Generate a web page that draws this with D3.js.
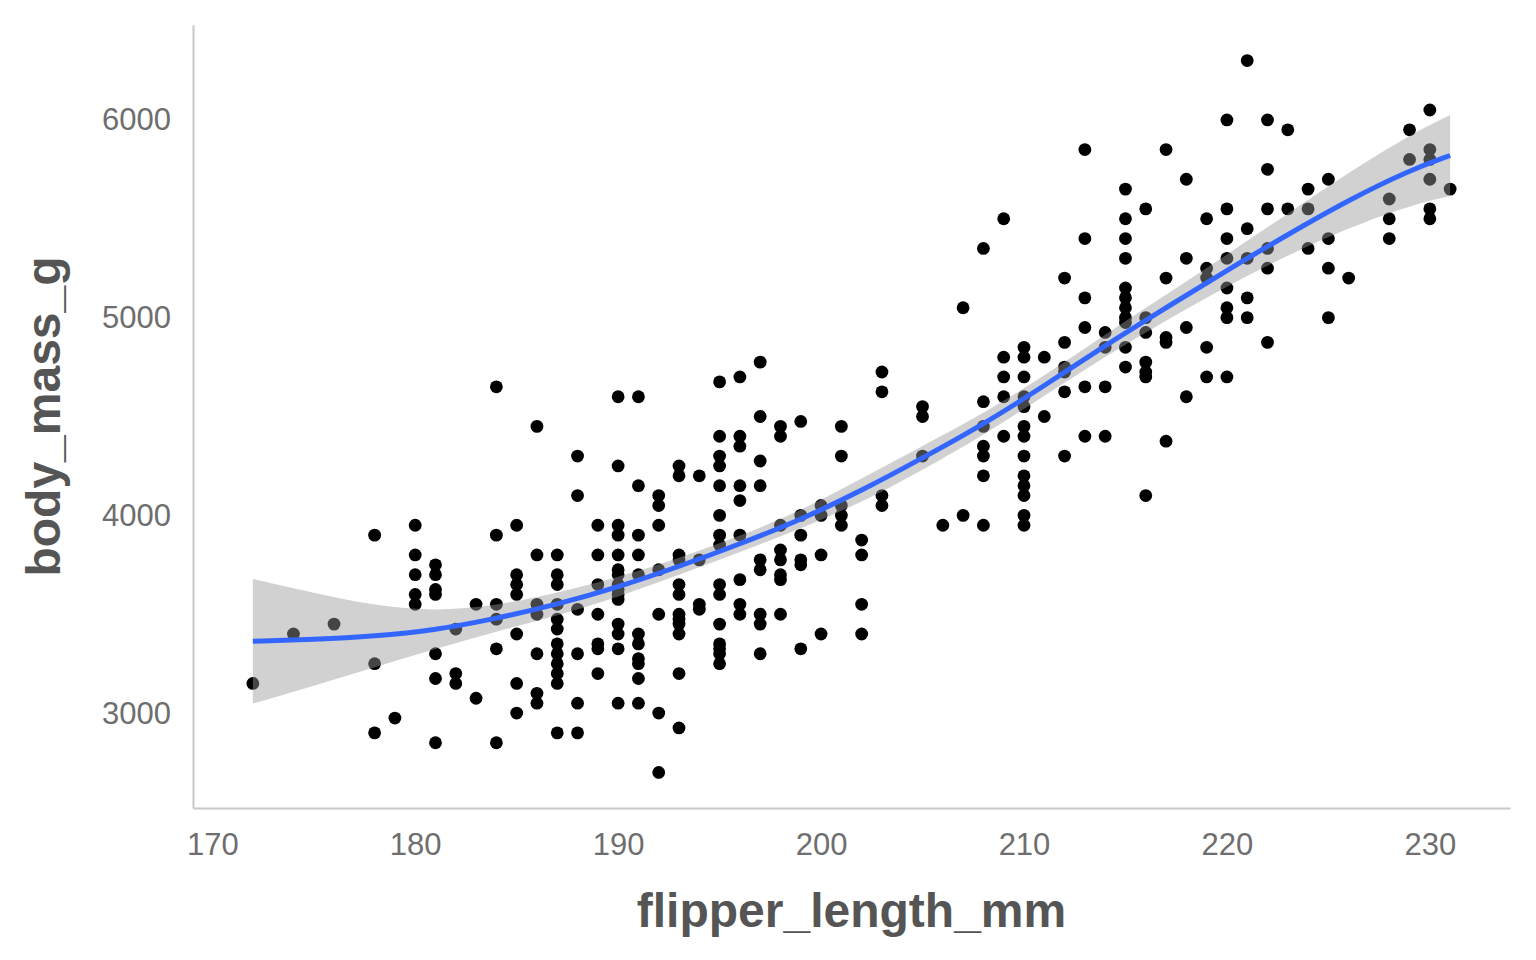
<!DOCTYPE html>
<html>
<head>
<meta charset="utf-8">
<script src="https://cdn.jsdelivr.net/npm/d3@7"></script>
<style>
  html, body { margin: 0; padding: 0; background: #fff; }
  svg { display: block; }
</style>
</head>
<body>
<svg id="chart" width="1536" height="960"></svg>
<script>
// ---- data ----
const flipperLengths = [172,174,176,178,179,180,181,182,183,184,185,186,187,188,189,190,191,192,193,194,195,196,197,198,199,200,201,202,203,205,206,207,208,209,210,211,212,213,214,215,216,217,218,219,220,221,222,223,224,225,226,228,229,230,231];
const bodyMasses = [
  [3150],
  [3400],
  [3450],
  [3900,3250,2900],
  [2975],
  [3950,3800,3700,3600,3550],
  [3750,3700,3625,3600,3300,3175,2850],
  [3425,3200,3150],
  [3550,3075],
  [4650,3900,3550,3475,3325,2850],
  [3950,3700,3650,3600,3400,3150,3000],
  [4450,3800,3550,3500,3300,3100,3050],
  [3800,3700,3650,3550,3475,3425,3350,3300,3250,3200,3150,2900],
  [4300,4100,3525,3300,3050,2900],
  [3950,3800,3650,3500,3350,3325,3200],
  [4600,4250,3950,3900,3800,3725,3700,3650,3625,3600,3575,3450,3400,3325,3050],
  [4600,4150,3900,3800,3700,3400,3350,3275,3250,3175,3050],
  [4100,4050,3950,3725,3500,3000,2700],
  [4250,4200,3800,3775,3650,3600,3500,3475,3450,3400,3200,2925],
  [4200,3775,3550,3525],
  [4675,4400,4300,4250,4150,4000,3900,3850,3650,3600,3450,3350,3325,3300,3250],
  [4700,4400,4350,4150,4075,3900,3675,3550,3500],
  [4775,4500,4275,4150,3775,3725,3500,3450,3300],
  [4450,4400,3950,3825,3775,3700,3675,3500],
  [4475,4000,3900,3775,3750,3325],
  [4050,4000,3800,3400],
  [4450,4300,4050,4000,3950],
  [3875,3800,3550,3400],
  [4725,4625,4100,4050],
  [4550,4500,4300],
  [3950],
  [5050,4000],
  [5350,4575,4450,4350,4300,4200,3950],
  [5500,4800,4700,4600,4400],
  [4850,4800,4700,4600,4550,4450,4400,4300,4200,4150,4100,4000,3950],
  [4800,4500],
  [5200,4875,4750,4725,4625,4300],
  [5850,5400,5100,4950,4650,4400],
  [4925,4850,4650,4400],
  [5650,5500,5400,5300,5150,5100,5050,5000,4975,4850,4750],
  [5550,5000,4925,4775,4725,4700,4100],
  [5850,5200,4900,4875,4375],
  [5700,5300,4950,4600],
  [5500,5250,5200,4850,4700],
  [6000,5550,5400,5300,5150,5050,5000,4700],
  [6300,5450,5300,5100,5000],
  [6000,5750,5550,5350,5250,4875],
  [5950,5550],
  [5650,5550,5350],
  [5700,5400,5250,5000],
  [5200],
  [5600,5500,5400],
  [5950,5800],
  [6050,5850,5800,5700,5550,5500],
  [5650]
];

// smooth (loess) curve and its confidence band
const smoothX     = [172, 175, 178, 181, 184, 187, 190, 193, 196, 199, 202, 205, 208, 211, 214, 217, 220, 223, 226, 229, 231];
const smoothY     = [3363,3372,3388,3420,3478,3550,3637,3741,3855,3978,4125,4290,4460,4655,4860,5050,5240,5420,5595,5745,5820];
const smoothLower = [3048,3137,3233,3325,3413,3492,3587,3699,3815,3933,4065,4228,4405,4605,4804,4986,5160,5315,5455,5567,5615];
const smoothUpper = [3678,3607,3543,3515,3543,3608,3687,3783,3895,4023,4185,4352,4515,4705,4916,5114,5320,5525,5735,5923,6025];

const xTicks = [170, 180, 190, 200, 210, 220, 230];
const yTicks = [3000, 4000, 5000, 6000];
const xTitle = "flipper_length_mm";
const yTitle = "body_mass_g";

// ---- build point table ----
const points = [];
flipperLengths.forEach((f, i) => bodyMasses[i].forEach(m => points.push({x: f, y: m})));
const smooth = smoothX.map((x, i) => ({x, y: smoothY[i], lo: smoothLower[i], hi: smoothUpper[i]}));

// ---- layout ----
const panel = {left: 193, right: 1510, top: 25, bottom: 808};
const svg = d3.select("#chart");

function expand(ext, f) { const d = (ext[1] - ext[0]) * f; return [ext[0] - d, ext[1] + d]; }
const xExt = d3.extent(points, d => d.x);
const yExt = d3.extent(points, d => d.y);

const x = d3.scaleLinear().domain(expand(xExt, 0.05)).range([panel.left, panel.right]);
const y = d3.scaleLinear().domain(expand(yExt, 0.05)).range([panel.bottom, panel.top]);

const font = "'Liberation Sans', Arial, Helvetica, sans-serif";

// axes
const xAxis = svg.append("g")
  .attr("transform", `translate(0,${panel.bottom})`)
  .call(d3.axisBottom(x).tickValues(xTicks).tickSize(0).tickPadding(25).tickFormat(d3.format("d")));
const yAxis = svg.append("g")
  .attr("transform", `translate(${panel.left},0)`)
  .call(d3.axisLeft(y).tickValues(yTicks).tickSize(0).tickPadding(22).tickFormat(d3.format("d")));

[xAxis, yAxis].forEach(g => {
  g.select(".domain").attr("stroke", "#c8c8c8").attr("stroke-width", 2);
  g.selectAll("text").attr("fill", "#6e6e6e").style("font-family", font).style("font-size", "31px");
});

// points
svg.append("g").selectAll("circle")
  .data(points)
  .join("circle")
  .attr("cx", d => x(d.x))
  .attr("cy", d => y(d.y))
  .attr("r", 6.4)
  .attr("fill", "#000");

// confidence band
svg.append("path")
  .datum(smooth)
  .attr("d", d3.area().x(d => x(d.x)).y0(d => y(d.lo)).y1(d => y(d.hi)).curve(d3.curveBasis))
  .attr("fill", "#999999")
  .attr("fill-opacity", 0.45)
  .attr("stroke", "none");

// smooth line
svg.append("path")
  .datum(smooth)
  .attr("d", d3.line().x(d => x(d.x)).y(d => y(d.y)).curve(d3.curveBasis))
  .attr("fill", "none")
  .attr("stroke", "#3366FF")
  .attr("stroke-width", 5);

// titles
svg.append("text")
  .attr("x", (panel.left + panel.right) / 2)
  .attr("y", 927)
  .attr("text-anchor", "middle")
  .attr("fill", "#555555")
  .style("font-family", font)
  .style("font-weight", "bold")
  .style("font-size", "48px")
  .text(xTitle);

svg.append("text")
  .attr("transform", `translate(60,${(panel.top + panel.bottom) / 2}) rotate(-90)`)
  .attr("text-anchor", "middle")
  .attr("fill", "#555555")
  .style("font-family", font)
  .style("font-weight", "bold")
  .style("font-size", "48px")
  .text(yTitle);
</script>
</body>
</html>
